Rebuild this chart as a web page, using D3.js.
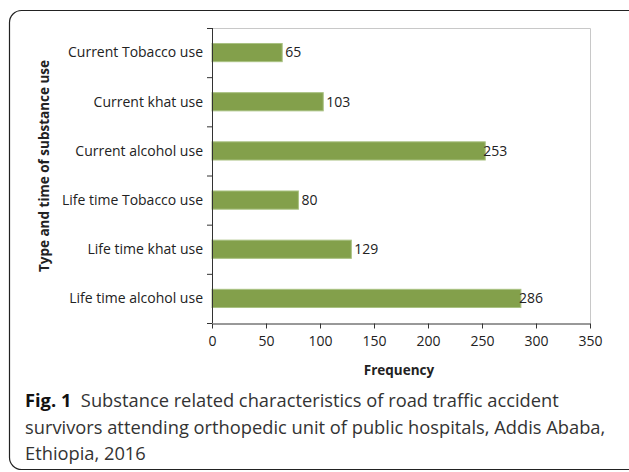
<!DOCTYPE html>
<html>
<head>
<meta charset="UTF-8">
<style>
  body { margin: 0; background: #fff; }
  text.cat, text.tick, text.val { font-family: "Open Sans", sans-serif; font-size: 14px; fill: #222; }
  text.axtitle { font-family: "Open Sans", sans-serif; font-size: 13.5px; font-weight: bold; fill: #222; }
  text.cap { font-family: "Open Sans", sans-serif; font-size: 18.3px; fill: #333; }
</style>
<script src="https://d3js.org/d3.v7.min.js"></script>
</head>
<body>
<div id="chart"></div>
<script>
const categories = ["Current Tobacco use", "Current khat use", "Current alcohol use",
                    "Life time Tobacco use", "Life time khat use", "Life time alcohol use"];
const frequencies = [65, 103, 253, 80, 129, 286];
const xTicks = [0, 50, 100, 150, 200, 250, 300, 350];
const captionLines = [
  ["Fig. 1", "  Substance related characteristics of road traffic accident"],
  ["", "survivors attending orthopedic unit of public hospitals, Addis Ababa,"],
  ["", "Ethiopia, 2016"]
];

const W = 629, H = 472;
const plot = { left: 212, right: 590, top: 28, bottom: 323 };

const svg = d3.select("#chart").append("svg")
  .attr("width", W).attr("height", H);

// outer frame (rounded, runs off to the right)
svg.append("rect")
  .attr("x", 9.5).attr("y", 10.5)
  .attr("width", 640).attr("height", 459)
  .attr("rx", 12).attr("ry", 12)
  .attr("fill", "none").attr("stroke", "#222").attr("stroke-width", 1.2);

const x = d3.scaleLinear().domain([0, 350]).range([plot.left, plot.right]);
const y = d3.scaleBand().domain(categories).range([plot.top, plot.bottom]).paddingInner(0.63).paddingOuter(0.315);
const yEdges = d3.scaleBand().domain(categories).range([plot.top, plot.bottom]);

// light plot-area border (top + right)
svg.append("path")
  .attr("d", "M" + plot.left + "," + (plot.top + 0.5) + "H" + (plot.right + 0.5) + "V" + plot.bottom)
  .attr("fill", "none").attr("stroke", "#c8c8c8");

// bars
svg.selectAll("rect.bar")
  .data(categories)
  .enter().append("rect")
  .attr("class", "bar")
  .attr("x", x(0))
  .attr("y", d => y(d))
  .attr("width", (d, i) => x(frequencies[i]) - x(0))
  .attr("height", y.bandwidth())
  .attr("fill", "#83a04b")
  .attr("stroke", "#a9c182").attr("stroke-width", 1);

// value labels
svg.selectAll("text.val")
  .data(categories)
  .enter().append("text")
  .attr("class", "val")
  .attr("x", (d, i) => x(frequencies[i]) + (frequencies[i] > 200 ? -2 : 3))
  .attr("y", d => y(d) + y.bandwidth() / 2)
  .attr("dy", "0.35em")
  .text((d, i) => frequencies[i]);

// y axis line + ticks
const yAxis = svg.append("g");
yAxis.append("line")
  .attr("x1", plot.left + 0.5).attr("x2", plot.left + 0.5)
  .attr("y1", plot.top).attr("y2", plot.bottom)
  .attr("stroke", "#333");
const yTickPos = categories.map(d => yEdges(d)).concat([plot.bottom]);
yAxis.selectAll("line.t")
  .data(yTickPos)
  .enter().append("line")
  .attr("x1", plot.left - 5).attr("x2", plot.left)
  .attr("y1", d => d + 0.5).attr("y2", d => d + 0.5)
  .attr("stroke", "#333");

svg.selectAll("text.cat")
  .data(categories)
  .enter().append("text")
  .attr("class", "cat")
  .attr("x", plot.left - 9)
  .attr("y", d => y(d) + y.bandwidth() / 2)
  .attr("dy", "0.35em")
  .attr("text-anchor", "end")
  .text(d => d);

// x axis
const xAxis = svg.append("g")
  .attr("transform", "translate(0," + (plot.bottom + 0.5) + ")")
  .call(d3.axisBottom(x).tickValues(xTicks).tickSize(5).tickSizeOuter(0));
xAxis.select(".domain").attr("stroke", "#333");
xAxis.selectAll(".tick line").attr("stroke", "#333");
xAxis.selectAll(".tick text")
  .attr("class", "tick")
  .attr("dy", null).attr("y", 19)
  .attr("dominant-baseline", "middle");

// axis titles
svg.append("text")
  .attr("class", "axtitle")
  .attr("x", 399)
  .attr("y", 375)
  .attr("text-anchor", "middle")
  .text("Frequency");

svg.append("text")
  .attr("class", "axtitle")
  .attr("font-size", "14.6px")
  .attr("transform", "translate(49," + 166 + ") rotate(-90)")
  .attr("text-anchor", "middle")
  .text("Type and time of substance use");

// caption
const cap = svg.selectAll("text.cap")
  .data(captionLines)
  .enter().append("text")
  .attr("class", "cap")
  .attr("x", 25)
  .attr("y", (d, i) => 407 + i * 26.5)
  .attr("xml:space", "preserve");
cap.append("tspan").attr("font-weight", "bold").attr("fill", "#111").text(d => d[0]);
cap.append("tspan").text(d => d[1]);
</script>
</body>
</html>
